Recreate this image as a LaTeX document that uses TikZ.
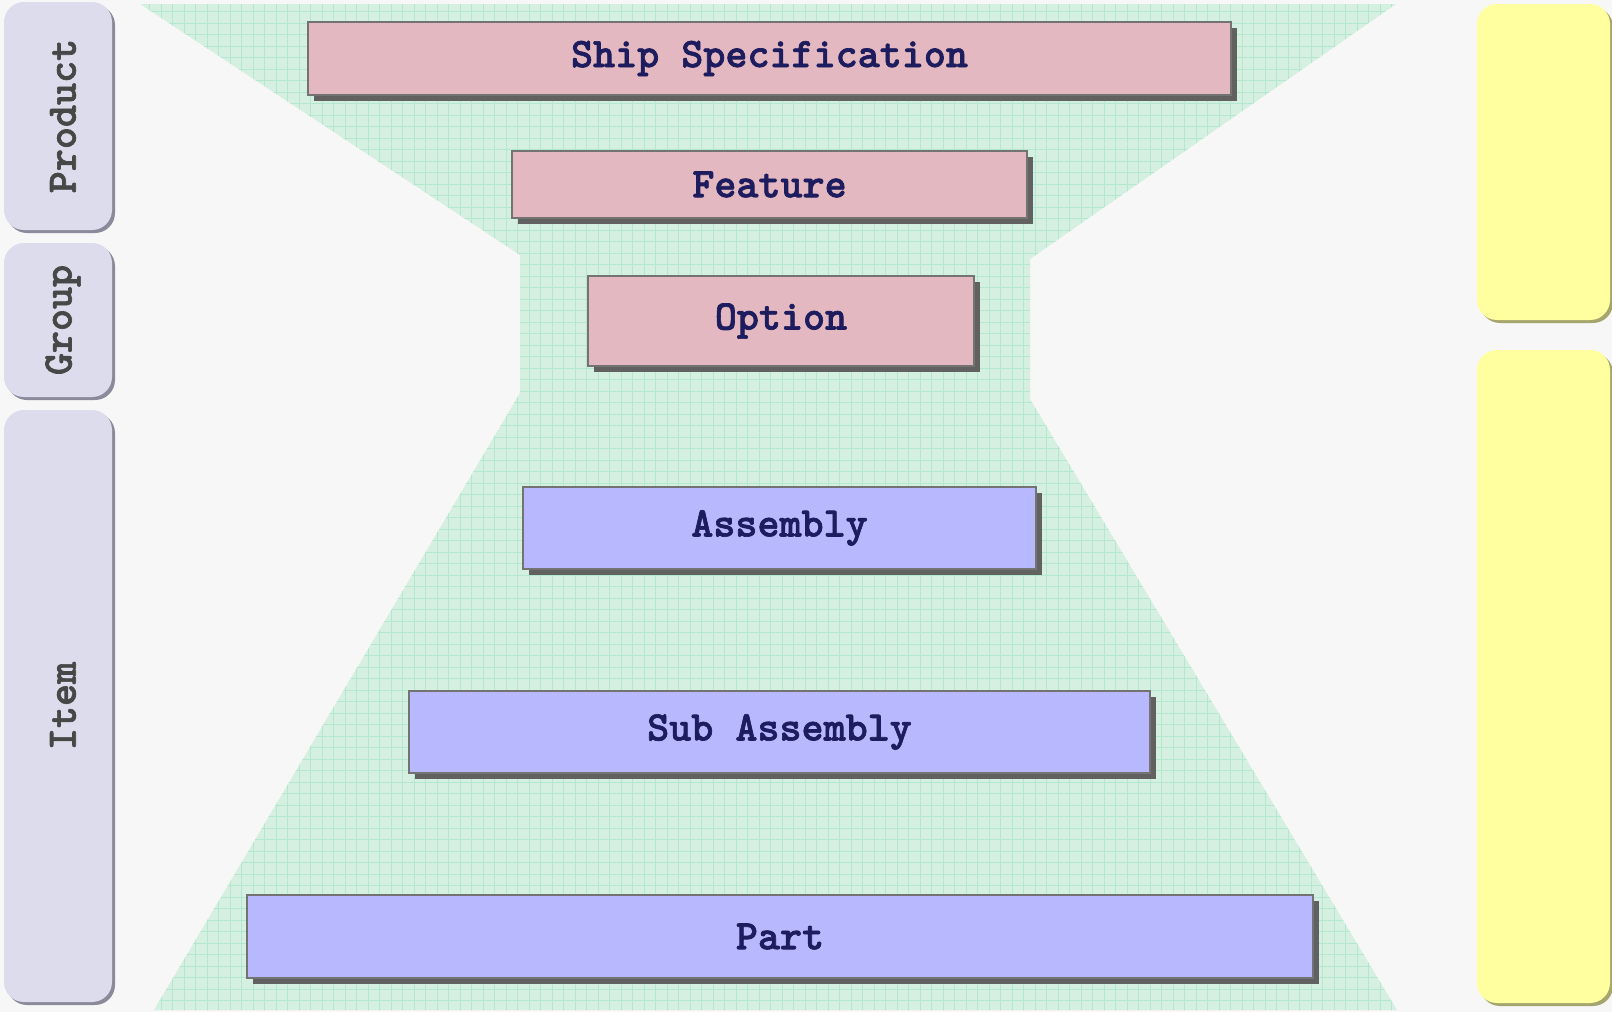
\documentclass[tikz,border=0pt]{standalone}
\usepackage{fontspec}
\newfontfamily\boxfont{Latin Modern Mono Light}[BoldFeatures={FakeBold=1.6}]
\usepackage{tikz}
\usetikzlibrary{shadows}

\definecolor{bgcol}{HTML}{F7F7F7}
\definecolor{funnelcol}{HTML}{D5EFE1}
\definecolor{gridcol}{HTML}{B4E7D0}
\definecolor{pinkcol}{HTML}{E4B8C0}
\definecolor{bluecol}{HTML}{B8B8FF}
\definecolor{navycol}{HTML}{1C1C5E}
\definecolor{tabcol}{HTML}{DCDCEC}
\definecolor{tabshadow}{HTML}{8A8A9A}
\definecolor{notecol}{HTML}{FFFFA0}
\definecolor{noteshadow}{HTML}{A5A56E}

\tikzset{
  level/.style={draw=black!55, line width=0.8pt, inner sep=0pt, outer sep=0pt,
    font=\boxfont\bfseries\fontsize{21}{22}\selectfont, text=navycol,
    general shadow={fill=black!62, shadow xshift=3pt, shadow yshift=-3pt}},
  tab/.style={fill=tabcol, rounded corners=10pt, inner sep=0pt,
    general shadow={fill=tabshadow, shadow xshift=1.5pt, shadow yshift=-1.5pt}},
  tablabel/.style={rotate=90, inner sep=0pt,
    font=\boxfont\bfseries\fontsize{21}{22}\selectfont, text=black!72},
  note/.style={fill=notecol, rounded corners=10pt, inner sep=0pt,
    general shadow={fill=noteshadow, shadow xshift=1.5pt, shadow yshift=-1.5pt}}
}

\begin{document}
\begin{tikzpicture}[x=0.5pt,y=-0.5pt]
\fill[bgcol] (0,0) rectangle (1612,1012);
\useasboundingbox (0,0) rectangle (1612,1012);

% funnel
\begin{scope}
\clip (140,4) -- (520,255) -- (520,393) -- (154,1010) -- (1397,1010)
  -- (1030,399) -- (1030,259) -- (1396,4) -- cycle;
\fill[funnelcol] (0,0) rectangle (1612,1012);
\draw[gridcol, line width=0.5pt, step=5.75pt] (0,0) grid (1612,1012);
\end{scope}

% side tabs
\node[tab, minimum width=54pt, minimum height=114pt] (product) at (58,116) {};
\node[tab, minimum width=54pt, minimum height=77pt] (group) at (58,320) {};
\node[tab, minimum width=54pt, minimum height=296pt] (item) at (58,706) {};
\node[tablabel] at ([xshift=2.5pt]product.center) {Product};
\node[tablabel] at ([xshift=2.5pt]group.center) {Group};
\node[tablabel] at ([xshift=2.5pt]item.center) {Item};

% notes
\node[note, minimum width=66.5pt, minimum height=158pt] (noteA) at (1543.5,162) {};
\node[note, minimum width=66.5pt, minimum height=326.5pt] (noteB) at (1543.5,676.5) {};

% levels
\node[level, fill=pinkcol, minimum width=461.5pt, minimum height=36.5pt] (spec) at (769.5,58.5) {Ship Specification};
\node[level, fill=pinkcol, minimum width=257.5pt, minimum height=33.5pt] (feature) at (769.5,184.5) {Feature};
\node[level, fill=pinkcol, minimum width=193pt, minimum height=45.25pt] (option) at (781,321) {Option};
\node[level, fill=bluecol, minimum width=256.5pt, minimum height=41pt] (assembly) at (779.5,528) {Assembly};
\node[level, fill=bluecol, minimum width=370.5pt, minimum height=41pt] (subassembly) at (779.5,732) {Sub Assembly};
\node[level, fill=bluecol, minimum width=533pt, minimum height=41.5pt] (part) at (780,936.5) {Part};
\end{tikzpicture}
\end{document}
